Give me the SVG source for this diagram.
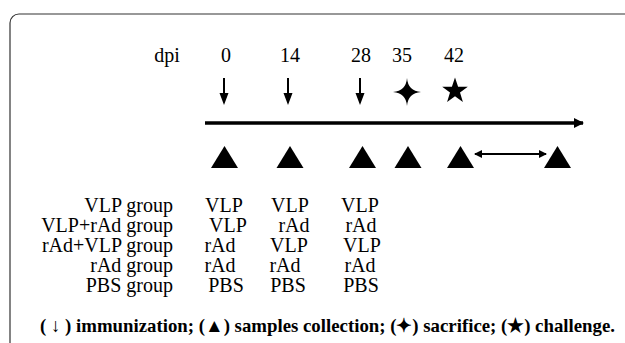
<svg xmlns="http://www.w3.org/2000/svg" width="625" height="343" viewBox="0 0 625 343" font-family="'Liberation Serif', 'Times New Roman', 'DejaVu Serif', serif">
<style>
text{font-family:'Liberation Serif','Times New Roman','DejaVu Serif',serif;fill:#000}
.t{font-size:20px}
.m{text-anchor:middle}
.r{text-anchor:end}
.b{font-size:19px;font-weight:bold}
.ln{stroke:#000;fill:none}
.f{fill:#000}
</style>
<defs>
<marker id="ah" markerWidth="10" markerHeight="10" refX="9" refY="5" orient="auto" markerUnits="userSpaceOnUse">
<path d="M0,0 L10,5 L0,10 Z" fill="#000"/>
</marker>
<marker id="ahs" markerWidth="8" markerHeight="8" refX="7" refY="4" orient="auto-start-reverse" markerUnits="userSpaceOnUse">
<path d="M0,0 L8,4 L0,8 Z" fill="#000"/>
</marker>
<polygon id="tri" points="-13.5,11 13.5,11 0,-11"/>
<path id="down" d="M-1,0 L1,0 L1,15 L4.5,15 L0,27 L-4.5,15 L-1,15 Z"/>
</defs>
<rect x="10" y="14" width="700" height="400" rx="9" fill="#fff" stroke="#333" stroke-width="1.2"/>

<g id="header">
<text class="t m" x="167" y="62">dpi</text>
<text class="t m" x="226" y="62">0</text>
<text class="t m" x="290" y="62">14</text>
<text class="t m" x="361" y="62">28</text>
<text class="t m" x="402" y="62">35</text>
<text class="t m" x="454" y="62">42</text>
</g>

<g id="events" class="f">
<use href="#down" x="224" y="78"/>
<use href="#down" x="288" y="78"/>
<use href="#down" x="360" y="78"/>
<path id="sacrifice" d="M407,78 Q408,91 421,92 Q408,93 407,106 Q406,93 393,92 Q406,91 407,78 Z"/>
<path id="challenge" d="M455,77.5 L458.1,86.7 L467.8,86.8 L460.0,92.6 L462.9,101.9 L455,96.3 L447.1,101.9 L450.0,92.6 L442.2,86.8 L451.9,86.7 Z"/>
</g>

<g id="connectors">
<line class="ln" x1="205" y1="123" x2="583" y2="123" stroke-width="3.5" marker-end="url(#ah)"/>
<line class="ln" x1="475" y1="154" x2="546" y2="154" stroke-width="2" marker-start="url(#ahs)" marker-end="url(#ahs)"/>
</g>

<g id="samples" class="f">
<use href="#tri" x="224.5" y="157"/>
<use href="#tri" x="290" y="157"/>
<use href="#tri" x="362.5" y="157"/>
<use href="#tri" x="408" y="157"/>
<use href="#tri" x="460.5" y="157"/>
<use href="#tri" x="557.5" y="157"/>
</g>

<g id="table">
<text class="t r" x="173" y="212">VLP group</text>
<text class="t r" x="173" y="232">VLP+rAd group</text>
<text class="t r" x="173" y="252">rAd+VLP group</text>
<text class="t r" x="173" y="272">rAd group</text>
<text class="t r" x="173" y="292">PBS group</text>

<text class="t m" x="224" y="212">VLP</text>
<text class="t m" x="228" y="232">VLP</text>
<text class="t m" x="220" y="252">rAd</text>
<text class="t m" x="220" y="272">rAd</text>
<text class="t m" x="226" y="292">PBS</text>

<text class="t m" x="290" y="212">VLP</text>
<text class="t m" x="294" y="232">rAd</text>
<text class="t m" x="289" y="252">VLP</text>
<text class="t m" x="285" y="272">rAd</text>
<text class="t m" x="288" y="292">PBS</text>

<text class="t m" x="360" y="212">VLP</text>
<text class="t m" x="361" y="232">rAd</text>
<text class="t m" x="362" y="252">VLP</text>
<text class="t m" x="360" y="272">rAd</text>
<text class="t m" x="361" y="292">PBS</text>
</g>

<g id="legend">
<text class="b" x="40" y="332" textLength="575" lengthAdjust="spacingAndGlyphs">( ↓ ) immunization; (▲) samples collection; (✦) sacrifice; (★) challenge.</text>
</g>
</svg>
